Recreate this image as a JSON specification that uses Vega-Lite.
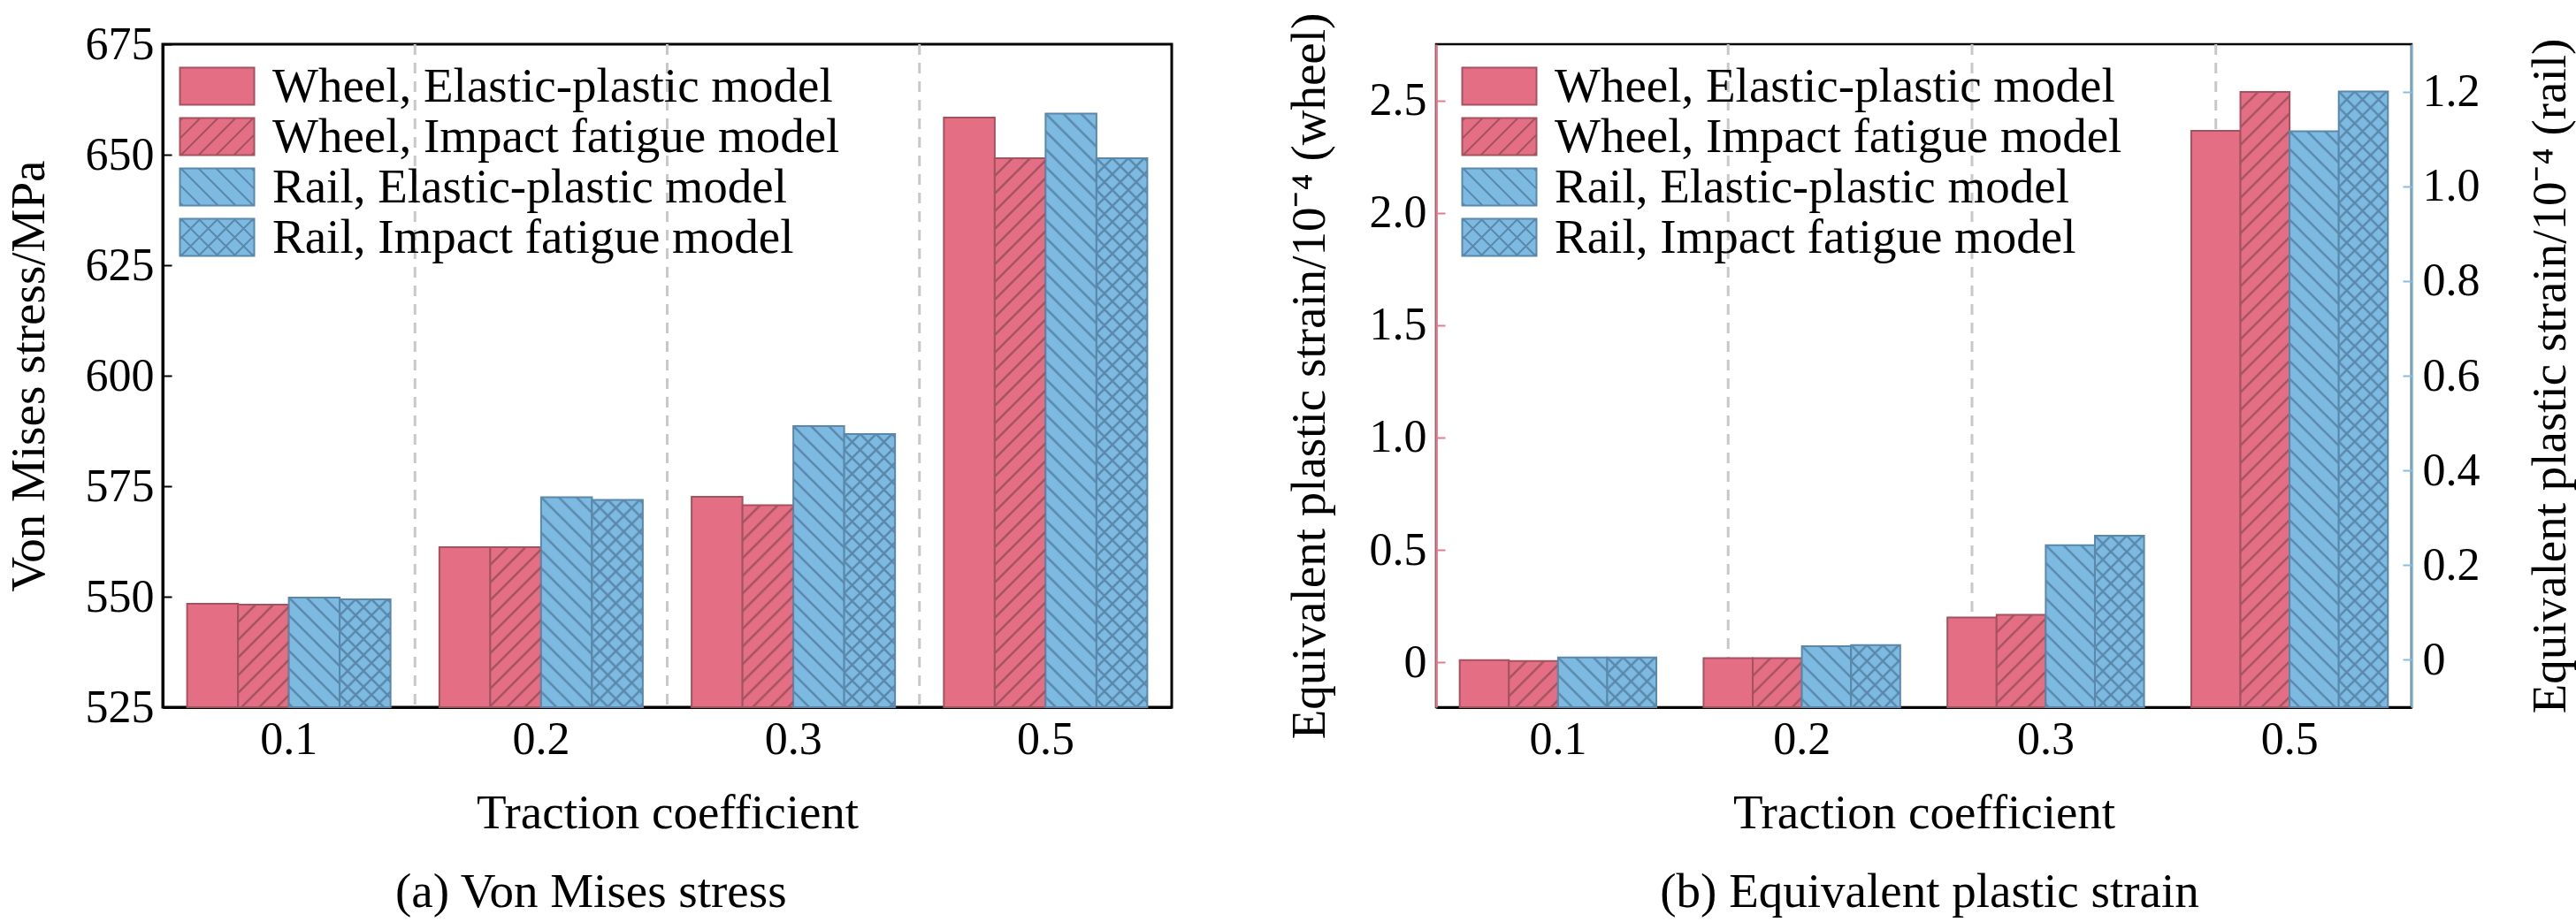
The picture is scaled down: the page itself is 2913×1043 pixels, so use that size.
{
  "$schema": "https://vega.github.io/schema/vega-lite/v6.json",
  "background": "white",
  "padding": {"left": 3, "top": 12, "right": 0, "bottom": 2},
  "spacing": 117,
  "config": {
    "font": "Liberation Serif, serif",
    "axis": {
      "labelFont": "Liberation Serif, serif", "titleFont": "Liberation Serif, Times New Roman, serif",
      "labelColor": "black", "titleColor": "black", "titleFontWeight": "normal",
      "labelFontSize": 52, "titleFontSize": 55, "grid": false,
      "tickColor": "black", "domainColor": "black", "tickWidth": 2
    },
    "axisX": {"labelFont": "Liberation Serif, serif", "titleFont": "Liberation Serif, Times New Roman, serif"},
    "axisY": {"labelFont": "Liberation Serif, serif", "titleFont": "Liberation Serif, Times New Roman, serif"},
    "style": {
      "guide-label": {"font": "Liberation Serif, serif"},
      "guide-title": {"font": "Liberation Serif, Times New Roman, serif"}
    },
    "legend": {"labelFont": "Liberation Serif, serif", "labelFontSize": 55, "labelColor": "black", "labelLimit": 1000},
    "title": {"font": "Liberation Serif, serif", "fontWeight": "normal", "fontSize": 55, "color": "black"}
  },
  "data": {
    "values": [
      {"tc": "0.1", "series": "Wheel, Elastic-plastic model", "part": "Wheel", "stress": 548.4, "strain": 0.009},
      {"tc": "0.1", "series": "Wheel, Impact fatigue model", "part": "Wheel", "stress": 548.2, "strain": 0.006},
      {"tc": "0.1", "series": "Rail, Elastic-plastic model", "part": "Rail", "stress": 549.8, "strain": 0.005},
      {"tc": "0.1", "series": "Rail, Impact fatigue model", "part": "Rail", "stress": 549.4, "strain": 0.005},
      {"tc": "0.2", "series": "Wheel, Elastic-plastic model", "part": "Wheel", "stress": 561.2, "strain": 0.018},
      {"tc": "0.2", "series": "Wheel, Impact fatigue model", "part": "Wheel", "stress": 561.2, "strain": 0.018},
      {"tc": "0.2", "series": "Rail, Elastic-plastic model", "part": "Rail", "stress": 572.5, "strain": 0.029},
      {"tc": "0.2", "series": "Rail, Impact fatigue model", "part": "Rail", "stress": 571.9, "strain": 0.031},
      {"tc": "0.3", "series": "Wheel, Elastic-plastic model", "part": "Wheel", "stress": 572.6, "strain": 0.199},
      {"tc": "0.3", "series": "Wheel, Impact fatigue model", "part": "Wheel", "stress": 570.7, "strain": 0.211},
      {"tc": "0.3", "series": "Rail, Elastic-plastic model", "part": "Rail", "stress": 588.6, "strain": 0.242},
      {"tc": "0.3", "series": "Rail, Impact fatigue model", "part": "Rail", "stress": 586.8, "strain": 0.262},
      {"tc": "0.5", "series": "Wheel, Elastic-plastic model", "part": "Wheel", "stress": 658.4, "strain": 2.365},
      {"tc": "0.5", "series": "Wheel, Impact fatigue model", "part": "Wheel", "stress": 649.2, "strain": 2.538},
      {"tc": "0.5", "series": "Rail, Elastic-plastic model", "part": "Rail", "stress": 659.3, "strain": 1.116},
      {"tc": "0.5", "series": "Rail, Impact fatigue model", "part": "Rail", "stress": 649.2, "strain": 1.2}
    ]
  },
  "resolve": {"scale": {"x": "independent", "xOffset": "independent", "color": "independent", "stroke": "independent", "shape": "independent"}},
  "hconcat": [
    {
      "width": 1141,
      "height": 750,
      "view": {"stroke": "black", "strokeWidth": 3},
      "title": {"text": "(a) Von Mises stress", "orient": "bottom", "frame": "bounds", "anchor": "middle", "offset": 36},
      "encoding": {
        "x": {
          "field": "tc", "type": "nominal", "title": "Traction coefficient",
          "scale": {"paddingInner": 0, "paddingOuter": 0},
          "axis": {"labelAngle": 0, "labelFont": "Liberation Serif, serif", "titleFont": "Liberation Serif, Times New Roman, serif", "tickSize": -10, "domainWidth": 3, "labelPadding": 21, "titlePadding": 31}
        }
      },
      "layer": [
        {
          "transform": [{"filter": "datum.series === 'Wheel, Elastic-plastic model' && datum.tc !== '0.1'"}],
          "mark": {"type": "rule", "color": "#c8c8c8", "strokeWidth": 3, "strokeDash": [12, 9]},
          "encoding": {"x": {"field": "tc", "type": "nominal", "bandPosition": 0, "title": "Traction coefficient"}}
        },
        {
          "encoding": {
            "xOffset": {"field": "series", "scale": {"domain": ["Wheel, Elastic-plastic model", "Wheel, Impact fatigue model", "Rail, Elastic-plastic model", "Rail, Impact fatigue model"], "paddingInner": 0, "paddingOuter": 0.48}},
            "y": {
              "field": "stress", "type": "quantitative", "title": "Von Mises stress/MPa",
              "scale": {"domain": [525, 675], "nice": false, "zero": false},
              "axis": {"values": [525, 550, 575, 600, 625, 650, 675], "labelFont": "Liberation Serif, serif", "titleFont": "Liberation Serif, Times New Roman, serif", "titleFontSize": 55, "tickSize": -10, "domainWidth": 3, "labelPadding": 20, "titlePadding": 35}
            }
          },
          "layer": [
            {
              "mark": {"type": "bar", "strokeWidth": 2},
              "encoding": {
                "y2": {"datum": 525},
                "color": {"field": "series", "type": "nominal", "scale": {"domain": ["Wheel, Elastic-plastic model", "Wheel, Impact fatigue model", "Rail, Elastic-plastic model", "Rail, Impact fatigue model"], "range": ["#E46F84", "#E46F84", "#7DBAE2", "#7DBAE2"]}, "legend": {"title": null, "orient": "none", "legendX": 13, "legendY": 20, "symbolSize": 1764, "symbolStrokeWidth": 2, "symbolOpacity": 1, "labelOffset": 56, "rowPadding": 1}},
                "stroke": {"field": "series", "type": "nominal", "scale": {"domain": ["Wheel, Elastic-plastic model", "Wheel, Impact fatigue model", "Rail, Elastic-plastic model", "Rail, Impact fatigue model"], "range": ["#A3535F", "#A3535F", "#5A88AA", "#5A88AA"]}, "legend": {"title": null, "orient": "none", "legendX": 13, "legendY": 20, "symbolSize": 1764, "symbolStrokeWidth": 2, "symbolOpacity": 1, "labelOffset": 56, "rowPadding": 1}}
              }
            },
            {
              "transform": [{"filter": "datum.series === 'Wheel, Impact fatigue model'"}],
              "mark": {"type": "image", "aspect": false, "url": "data:image/svg+xml,%3Csvg%20xmlns='http://www.w3.org/2000/svg'%20width='100%25'%20height='100%25'%3E%3Cdefs%3E%3Cpattern%20id='p'%20width='20'%20height='20'%20patternUnits='userSpaceOnUse'%3E%3Cpath%20d='M-5,5L5,-5M0,20L20,0M15,25L25,15'%20stroke='%23A3535F'%20stroke-width='2.5'/%3E%3C/pattern%3E%3C/defs%3E%3Crect%20width='100%25'%20height='100%25'%20fill='url(%23p)'/%3E%3C/svg%3E"},
              "encoding": {"y2": {"datum": 525}}
            },
            {
              "transform": [{"filter": "datum.series === 'Rail, Elastic-plastic model'"}],
              "mark": {"type": "image", "aspect": false, "url": "data:image/svg+xml,%3Csvg%20xmlns='http://www.w3.org/2000/svg'%20width='100%25'%20height='100%25'%3E%3Cdefs%3E%3Cpattern%20id='p'%20width='20'%20height='20'%20patternUnits='userSpaceOnUse'%3E%3Cpath%20d='M-5,15L5,25M0,0L20,20M15,-5L25,5'%20stroke='%235A88AA'%20stroke-width='2.5'/%3E%3C/pattern%3E%3C/defs%3E%3Crect%20width='100%25'%20height='100%25'%20fill='url(%23p)'/%3E%3C/svg%3E"},
              "encoding": {"y2": {"datum": 525}}
            },
            {
              "transform": [{"filter": "datum.series === 'Rail, Impact fatigue model'"}],
              "mark": {"type": "image", "aspect": false, "url": "data:image/svg+xml,%3Csvg%20xmlns='http://www.w3.org/2000/svg'%20width='100%25'%20height='100%25'%3E%3Cdefs%3E%3Cpattern%20id='p'%20width='18'%20height='18'%20patternUnits='userSpaceOnUse'%3E%3Cpath%20d='M-4.5,4.5L4.5,-4.5M0,18L18,0M13.5,22.5L22.5,13.5M-4.5,13.5L4.5,22.5M0,0L18,18M13.5,-4.5L22.5,4.5'%20stroke='%235A88AA'%20stroke-width='2.5'/%3E%3C/pattern%3E%3C/defs%3E%3Crect%20width='100%25'%20height='100%25'%20fill='url(%23p)'/%3E%3C/svg%3E"},
              "encoding": {"y2": {"datum": 525}}
            },
            {
              "mark": {"type": "point", "filled": true, "opacity": 0, "size": 1764},
              "encoding": {
                "color": {"field": "series", "type": "nominal", "scale": {"domain": ["Wheel, Elastic-plastic model", "Wheel, Impact fatigue model", "Rail, Elastic-plastic model", "Rail, Impact fatigue model"], "range": ["#E46F84", "#E46F84", "#7DBAE2", "#7DBAE2"]}, "legend": {"title": null, "orient": "none", "legendX": 13, "legendY": 20, "symbolSize": 1764, "symbolStrokeWidth": 2, "symbolOpacity": 1, "labelOffset": 56, "rowPadding": 1}},
                "stroke": {"field": "series", "type": "nominal", "scale": {"domain": ["Wheel, Elastic-plastic model", "Wheel, Impact fatigue model", "Rail, Elastic-plastic model", "Rail, Impact fatigue model"], "range": ["#A3535F", "#A3535F", "#5A88AA", "#5A88AA"]}, "legend": {"title": null, "orient": "none", "legendX": 13, "legendY": 20, "symbolSize": 1764, "symbolStrokeWidth": 2, "symbolOpacity": 1, "labelOffset": 56, "rowPadding": 1}},
                "shape": {"field": "series", "type": "nominal", "scale": {"domain": ["Wheel, Elastic-plastic model", "Wheel, Impact fatigue model", "Rail, Elastic-plastic model", "Rail, Impact fatigue model"], "range": [
                  "M-1,-1H3V1H-1Z",
                  "M-1,-1H3V1H-1ZM-1,-0.85L-0.85,-1M-1,0.1L0.1,-1M-0.95,1L1.05,-1M0,1L2,-1M0.95,1L2.95,-1M1.9,1L3,-0.1M2.85,1L3,0.85",
                  "M-1,-1H3V1H-1ZM-1,0.85L-0.85,1M-1,-0.1L0.1,1M-0.95,-1L1.05,1M0,-1L2,1M0.95,-1L2.95,1M1.9,-1L3,0.1M2.85,-1L3,-0.85",
                  "M-1,-1H3V1H-1ZM-1,-0.85L-0.85,-1M-1,0.1L0.1,-1M-0.95,1L1.05,-1M0,1L2,-1M0.95,1L2.95,-1M1.9,1L3,-0.1M2.85,1L3,0.85M-1,0.85L-0.85,1M-1,-0.1L0.1,1M-0.95,-1L1.05,1M0,-1L2,1M0.95,-1L2.95,1M1.9,-1L3,0.1M2.85,-1L3,-0.85"
                ]}, "legend": {"title": null, "orient": "none", "legendX": 13, "legendY": 20, "symbolSize": 1764, "symbolStrokeWidth": 2, "symbolOpacity": 1, "labelOffset": 56, "rowPadding": 1}}
              }
            }
          ]
        }
      ]
    },
    {
      "width": 1103,
      "height": 750,
      "view": {"stroke": "black", "strokeWidth": 2.5},
      "title": {"text": "(b) Equivalent plastic strain", "orient": "bottom", "frame": "bounds", "anchor": "middle", "offset": 36},
      "encoding": {
        "x": {
          "field": "tc", "type": "nominal", "title": "Traction coefficient",
          "scale": {"paddingInner": 0, "paddingOuter": 0},
          "axis": {"labelAngle": 0, "labelFont": "Liberation Serif, serif", "titleFont": "Liberation Serif, Times New Roman, serif", "tickSize": -10, "domainWidth": 3, "labelPadding": 21, "titlePadding": 31}
        },
        "xOffset": {"field": "series", "scale": {"domain": ["Wheel, Elastic-plastic model", "Wheel, Impact fatigue model", "Rail, Elastic-plastic model", "Rail, Impact fatigue model"], "paddingInner": 0, "paddingOuter": 0.48}}
      },
      "layer": [
        {
          "transform": [{"filter": "datum.series === 'Wheel, Elastic-plastic model' && datum.tc !== '0.1'"}],
          "mark": {"type": "rule", "color": "#c8c8c8", "strokeWidth": 3, "strokeDash": [12, 9]},
          "encoding": {"x": {"field": "tc", "type": "nominal", "bandPosition": 0, "title": "Traction coefficient"}, "xOffset": {"datum": "Wheel, Elastic-plastic model"}}
        },
        {
          "transform": [{"filter": "datum.part === 'Wheel'"}],
          "encoding": {
            "y": {
              "field": "strain", "type": "quantitative", "title": "Equivalent plastic strain/10⁻⁴ (wheel)",
              "scale": {"domain": [-0.2, 2.75], "nice": false, "zero": false},
              "axis": {"orient": "left", "values": [0, 0.5, 1, 1.5, 2, 2.5], "labelExpr": "datum.value === 0 ? '0' : format(datum.value, '.1f')", "labelFont": "Liberation Serif, serif", "titleFont": "Liberation Serif, Times New Roman, serif", "tickSize": -10, "tickColor": "#E47A8C", "domainColor": "#E47A8C", "domainWidth": 2.5, "labelPadding": 21, "titlePadding": 39}
            }
          },
          "layer": [
            {
              "mark": {"type": "bar", "strokeWidth": 2},
              "encoding": {
                "y2": {"datum": -0.2},
                "color": {"field": "series", "type": "nominal", "scale": {"domain": ["Wheel, Elastic-plastic model", "Wheel, Impact fatigue model", "Rail, Elastic-plastic model", "Rail, Impact fatigue model"], "range": ["#E46F84", "#E46F84", "#7DBAE2", "#7DBAE2"]}, "legend": {"title": null, "orient": "none", "legendX": 23, "legendY": 20, "symbolSize": 1764, "symbolStrokeWidth": 2, "symbolOpacity": 1, "labelOffset": 56, "rowPadding": 1}},
                "stroke": {"field": "series", "type": "nominal", "scale": {"domain": ["Wheel, Elastic-plastic model", "Wheel, Impact fatigue model", "Rail, Elastic-plastic model", "Rail, Impact fatigue model"], "range": ["#A3535F", "#A3535F", "#5A88AA", "#5A88AA"]}, "legend": {"title": null, "orient": "none", "legendX": 23, "legendY": 20, "symbolSize": 1764, "symbolStrokeWidth": 2, "symbolOpacity": 1, "labelOffset": 56, "rowPadding": 1}}
              }
            },
            {
              "transform": [{"filter": "datum.series === 'Wheel, Impact fatigue model'"}],
              "mark": {"type": "image", "aspect": false, "url": "data:image/svg+xml,%3Csvg%20xmlns='http://www.w3.org/2000/svg'%20width='100%25'%20height='100%25'%3E%3Cdefs%3E%3Cpattern%20id='p'%20width='20'%20height='20'%20patternUnits='userSpaceOnUse'%3E%3Cpath%20d='M-5,5L5,-5M0,20L20,0M15,25L25,15'%20stroke='%23A3535F'%20stroke-width='2.5'/%3E%3C/pattern%3E%3C/defs%3E%3Crect%20width='100%25'%20height='100%25'%20fill='url(%23p)'/%3E%3C/svg%3E"},
              "encoding": {"y2": {"datum": -0.2}}
            },
            {
              "mark": {"type": "point", "filled": true, "opacity": 0, "size": 1764},
              "encoding": {
                "color": {"field": "series", "type": "nominal", "scale": {"domain": ["Wheel, Elastic-plastic model", "Wheel, Impact fatigue model", "Rail, Elastic-plastic model", "Rail, Impact fatigue model"], "range": ["#E46F84", "#E46F84", "#7DBAE2", "#7DBAE2"]}, "legend": {"title": null, "orient": "none", "legendX": 23, "legendY": 20, "symbolSize": 1764, "symbolStrokeWidth": 2, "symbolOpacity": 1, "labelOffset": 56, "rowPadding": 1}},
                "stroke": {"field": "series", "type": "nominal", "scale": {"domain": ["Wheel, Elastic-plastic model", "Wheel, Impact fatigue model", "Rail, Elastic-plastic model", "Rail, Impact fatigue model"], "range": ["#A3535F", "#A3535F", "#5A88AA", "#5A88AA"]}, "legend": {"title": null, "orient": "none", "legendX": 23, "legendY": 20, "symbolSize": 1764, "symbolStrokeWidth": 2, "symbolOpacity": 1, "labelOffset": 56, "rowPadding": 1}},
                "shape": {"field": "series", "type": "nominal", "scale": {"domain": ["Wheel, Elastic-plastic model", "Wheel, Impact fatigue model", "Rail, Elastic-plastic model", "Rail, Impact fatigue model"], "range": [
                  "M-1,-1H3V1H-1Z",
                  "M-1,-1H3V1H-1ZM-1,-0.85L-0.85,-1M-1,0.1L0.1,-1M-0.95,1L1.05,-1M0,1L2,-1M0.95,1L2.95,-1M1.9,1L3,-0.1M2.85,1L3,0.85",
                  "M-1,-1H3V1H-1ZM-1,0.85L-0.85,1M-1,-0.1L0.1,1M-0.95,-1L1.05,1M0,-1L2,1M0.95,-1L2.95,1M1.9,-1L3,0.1M2.85,-1L3,-0.85",
                  "M-1,-1H3V1H-1ZM-1,-0.85L-0.85,-1M-1,0.1L0.1,-1M-0.95,1L1.05,-1M0,1L2,-1M0.95,1L2.95,-1M1.9,1L3,-0.1M2.85,1L3,0.85M-1,0.85L-0.85,1M-1,-0.1L0.1,1M-0.95,-1L1.05,1M0,-1L2,1M0.95,-1L2.95,1M1.9,-1L3,0.1M2.85,-1L3,-0.85"
                ]}, "legend": {"title": null, "orient": "none", "legendX": 23, "legendY": 20, "symbolSize": 1764, "symbolStrokeWidth": 2, "symbolOpacity": 1, "labelOffset": 56, "rowPadding": 1}}
              }
            }
          ]
        },
        {
          "transform": [{"filter": "datum.part === 'Rail'"}],
          "encoding": {
            "y": {
              "field": "strain", "type": "quantitative", "title": "Equivalent plastic strain/10⁻⁴ (rail)",
              "scale": {"domain": [-0.1, 1.3], "nice": false, "zero": false},
              "axis": {"orient": "right", "values": [0, 0.2, 0.4, 0.6, 0.8, 1, 1.2], "labelExpr": "datum.value === 0 ? '0' : format(datum.value, '.1f')", "labelFont": "Liberation Serif, serif", "titleFont": "Liberation Serif, Times New Roman, serif", "tickSize": -10, "tickColor": "#86BEE2", "domainColor": "#86BEE2", "domainWidth": 2.5, "labelPadding": 22, "titlePadding": 53, "titleAngle": 270, "titleBaseline": "top"}
            }
          },
          "layer": [
            {
              "mark": {"type": "bar", "strokeWidth": 2},
              "encoding": {
                "y2": {"datum": -0.1},
                "color": {"field": "series", "type": "nominal", "scale": {"domain": ["Wheel, Elastic-plastic model", "Wheel, Impact fatigue model", "Rail, Elastic-plastic model", "Rail, Impact fatigue model"], "range": ["#E46F84", "#E46F84", "#7DBAE2", "#7DBAE2"]}, "legend": {"title": null, "orient": "none", "legendX": 23, "legendY": 20, "symbolSize": 1764, "symbolStrokeWidth": 2, "symbolOpacity": 1, "labelOffset": 56, "rowPadding": 1}},
                "stroke": {"field": "series", "type": "nominal", "scale": {"domain": ["Wheel, Elastic-plastic model", "Wheel, Impact fatigue model", "Rail, Elastic-plastic model", "Rail, Impact fatigue model"], "range": ["#A3535F", "#A3535F", "#5A88AA", "#5A88AA"]}, "legend": {"title": null, "orient": "none", "legendX": 23, "legendY": 20, "symbolSize": 1764, "symbolStrokeWidth": 2, "symbolOpacity": 1, "labelOffset": 56, "rowPadding": 1}}
              }
            },
            {
              "transform": [{"filter": "datum.series === 'Rail, Elastic-plastic model'"}],
              "mark": {"type": "image", "aspect": false, "url": "data:image/svg+xml,%3Csvg%20xmlns='http://www.w3.org/2000/svg'%20width='100%25'%20height='100%25'%3E%3Cdefs%3E%3Cpattern%20id='p'%20width='20'%20height='20'%20patternUnits='userSpaceOnUse'%3E%3Cpath%20d='M-5,15L5,25M0,0L20,20M15,-5L25,5'%20stroke='%235A88AA'%20stroke-width='2.5'/%3E%3C/pattern%3E%3C/defs%3E%3Crect%20width='100%25'%20height='100%25'%20fill='url(%23p)'/%3E%3C/svg%3E"},
              "encoding": {"y2": {"datum": -0.1}}
            },
            {
              "transform": [{"filter": "datum.series === 'Rail, Impact fatigue model'"}],
              "mark": {"type": "image", "aspect": false, "url": "data:image/svg+xml,%3Csvg%20xmlns='http://www.w3.org/2000/svg'%20width='100%25'%20height='100%25'%3E%3Cdefs%3E%3Cpattern%20id='p'%20width='18'%20height='18'%20patternUnits='userSpaceOnUse'%3E%3Cpath%20d='M-4.5,4.5L4.5,-4.5M0,18L18,0M13.5,22.5L22.5,13.5M-4.5,13.5L4.5,22.5M0,0L18,18M13.5,-4.5L22.5,4.5'%20stroke='%235A88AA'%20stroke-width='2.5'/%3E%3C/pattern%3E%3C/defs%3E%3Crect%20width='100%25'%20height='100%25'%20fill='url(%23p)'/%3E%3C/svg%3E"},
              "encoding": {"y2": {"datum": -0.1}}
            }
          ]
        }
      ],
      "resolve": {"scale": {"y": "independent"}}
    }
  ]
}
